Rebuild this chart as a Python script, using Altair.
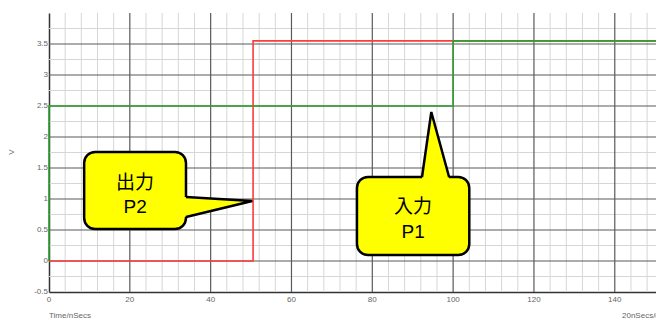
import altair as alt
import numpy as np
import pandas as pd

# --- signal traces (time in ns, level in V) ---
out_time = [0, 50.5, 50.5, 150.2]
out_volt = [0, 0, 3.55, 3.55]
in_time = [0, 0, 100, 100, 150.2]
in_volt = [0, 2.5, 2.5, 3.55, 3.55]

# --- axis ticks ---
x_ticks = [0, 20, 40, 60, 80, 100, 120, 140]
y_ticks = [-0.5, 0, 0.5, 1, 1.5, 2, 2.5, 3, 3.5]
x_tick_text = ["0", "20", "40", "60", "80", "100", "120", "140"]
y_tick_text = ["-0.5", "0", "0.5", "1", "1.5", "2", "2.5", "3", "3.5"]

X_DOM = [0, 150.2]
Y_DOM = [-0.5, 4.0]
FONT = "Liberation Sans, 'Noto Sans CJK JP'"

xs = alt.Scale(domain=X_DOM, nice=False, zero=False)
ys = alt.Scale(domain=Y_DOM, nice=False, zero=False)

# --- grid: light minor lines, dark major lines ---
minor_x = [v for v in np.arange(0, 152, 4) if v % 20 != 0]
minor_y = [v for v in np.arange(-0.5, 4.01, 0.25) if (v * 2) % 1 != 0]

minor_v = alt.Chart(pd.DataFrame({"t": minor_x})).mark_rule(
    color="#d6d6d6", strokeWidth=1
).encode(x=alt.X("t:Q", scale=xs))
minor_h = alt.Chart(pd.DataFrame({"v": minor_y})).mark_rule(
    color="#d6d6d6", strokeWidth=1
).encode(y=alt.Y("v:Q", scale=ys))
major_v = alt.Chart(pd.DataFrame({"t": x_ticks[1:]})).mark_rule(
    color="#5a5a5a", strokeWidth=1.2
).encode(x=alt.X("t:Q", scale=xs))
major_h = alt.Chart(pd.DataFrame({"v": y_ticks[1:]})).mark_rule(
    color="#5a5a5a", strokeWidth=1.2
).encode(y=alt.Y("v:Q", scale=ys))

# --- axes frame (left and bottom) ---
axis_base = alt.Chart(pd.DataFrame({"t": [0], "v": [-0.5]})).mark_point(opacity=0).encode(
    x=alt.X("t:Q", scale=xs, axis=alt.Axis(
        grid=False, ticks=False, labels=False, title=None,
        domainColor="#333333", domainWidth=1.5)),
    y=alt.Y("v:Q", scale=ys, axis=alt.Axis(
        grid=False, ticks=False, labels=False, title=None,
        domainColor="#333333", domainWidth=1.5)),
)

# tick labels
lab_style = dict(fontSize=8, font=FONT, color="#666666")
x_labels = alt.Chart(pd.DataFrame({"t": x_ticks, "s": x_tick_text})).mark_text(
    align="center", baseline="top", **lab_style
).encode(x=alt.X("t:Q", scale=xs), y=alt.value(283), text="s:N")
y_labels = alt.Chart(pd.DataFrame({"v": y_ticks, "s": y_tick_text})).mark_text(
    align="right", baseline="middle", **lab_style
).encode(x=alt.value(-1), y=alt.Y("v:Q", scale=ys), text="s:N")

# --- traces ---
out_df = pd.DataFrame({"t": out_time, "v": out_volt, "i": range(len(out_time))})
in_df = pd.DataFrame({"t": in_time, "v": in_volt, "i": range(len(in_time))})

out_line = alt.Chart(out_df).mark_line(color="#ff3b3b", strokeWidth=1.6).encode(
    x=alt.X("t:Q", scale=xs), y=alt.Y("v:Q", scale=ys), order="i:Q"
)
in_line = alt.Chart(in_df).mark_line(color="#2ea02e", strokeWidth=1.6).encode(
    x=alt.X("t:Q", scale=xs), y=alt.Y("v:Q", scale=ys), order="i:Q"
)

# --- callout balloons ---
YEL = "#ffff00"
boxes = pd.DataFrame({
    "x0": [8.7, 76.2], "x1": [33.9, 104.0],
    "y0": [0.516, 0.097], "y1": [1.758, 1.355],
})
box_layer = alt.Chart(boxes).mark_rect(
    fill=YEL, stroke="black", strokeWidth=2.5, cornerRadius=11
).encode(
    x=alt.X("x0:Q", scale=xs), x2="x1:Q",
    y=alt.Y("y0:Q", scale=ys), y2="y1:Q",
)

# pointer of the output balloon (points right to the output edge)
p2_fill = alt.Chart(pd.DataFrame({
    "t": [33.4, 50.3], "lo": [0.710, 0.968], "hi": [1.032, 0.968]
})).mark_area(color=YEL, opacity=1).encode(
    x=alt.X("t:Q", scale=xs), y=alt.Y("lo:Q", scale=ys), y2="hi:Q"
)
p2_edge = alt.Chart(pd.DataFrame({
    "t": [33.9, 50.3, 33.9], "v": [1.032, 0.968, 0.710], "i": [0, 1, 2]
})).mark_line(color="black", strokeWidth=2.5, strokeJoin="miter").encode(
    x=alt.X("t:Q", scale=xs), y=alt.Y("v:Q", scale=ys), order="i:Q"
)

# pointer of the input balloon (points up to the input edge)
p1_fill = alt.Chart(pd.DataFrame({
    "v": [1.323, 2.403], "lo": [92.3, 94.6], "hi": [99.0, 94.6]
})).mark_area(color=YEL, opacity=1, orient="horizontal").encode(
    y=alt.Y("v:Q", scale=ys), x=alt.X("lo:Q", scale=xs), x2="hi:Q"
)
p1_edge = alt.Chart(pd.DataFrame({
    "t": [92.3, 94.6, 99.0], "v": [1.355, 2.403, 1.355], "i": [0, 1, 2]
})).mark_line(color="black", strokeWidth=2.5, strokeJoin="miter").encode(
    x=alt.X("t:Q", scale=xs), y=alt.Y("v:Q", scale=ys), order="i:Q"
)

labels = pd.DataFrame({
    "t": [21.3, 21.3, 90.1, 90.1],
    "v": [1.258, 0.871, 0.871, 0.468],
    "s": ["出力", "P2", "入力", "P1"],
})
label_layer = alt.Chart(labels).mark_text(
    fontSize=19, font=FONT, color="black", baseline="middle", align="center"
).encode(x=alt.X("t:Q", scale=xs), y=alt.Y("v:Q", scale=ys), text="s:N")

# --- axis captions ---
cap_style = dict(fontSize=8, font=FONT, color="#666666", baseline="middle", align="left")
cap_time = alt.Chart(pd.DataFrame({"s": ["Time/nSecs"]})).mark_text(**cap_style).encode(
    x=alt.value(0), y=alt.value(303), text="s:N"
)
cap_div = alt.Chart(pd.DataFrame({"s": ["20nSecs/div"]})).mark_text(**cap_style).encode(
    x=alt.value(573), y=alt.value(303), text="s:N"
)
cap_v = alt.Chart(pd.DataFrame({"s": ["V"]})).mark_text(
    fontSize=8, font=FONT, color="#666666", baseline="middle", align="center", angle=270
).encode(x=alt.value(-37), y=alt.value(139), text="s:N")

chart = alt.layer(
    minor_v, minor_h, major_v, major_h, axis_base, x_labels, y_labels,
    out_line, in_line,
    box_layer, p2_fill, p2_edge, p1_fill, p1_edge, label_layer,
    cap_time, cap_div, cap_v,
).properties(
    width=607, height=279,
    autosize=alt.AutoSizeParams(type="none"),
    padding={"left": 49, "top": 13, "right": 0, "bottom": 28},
    background="white",
).configure_view(stroke=None)

chart.save("out.html", embed_options={"renderer": "svg", "actions": False})
